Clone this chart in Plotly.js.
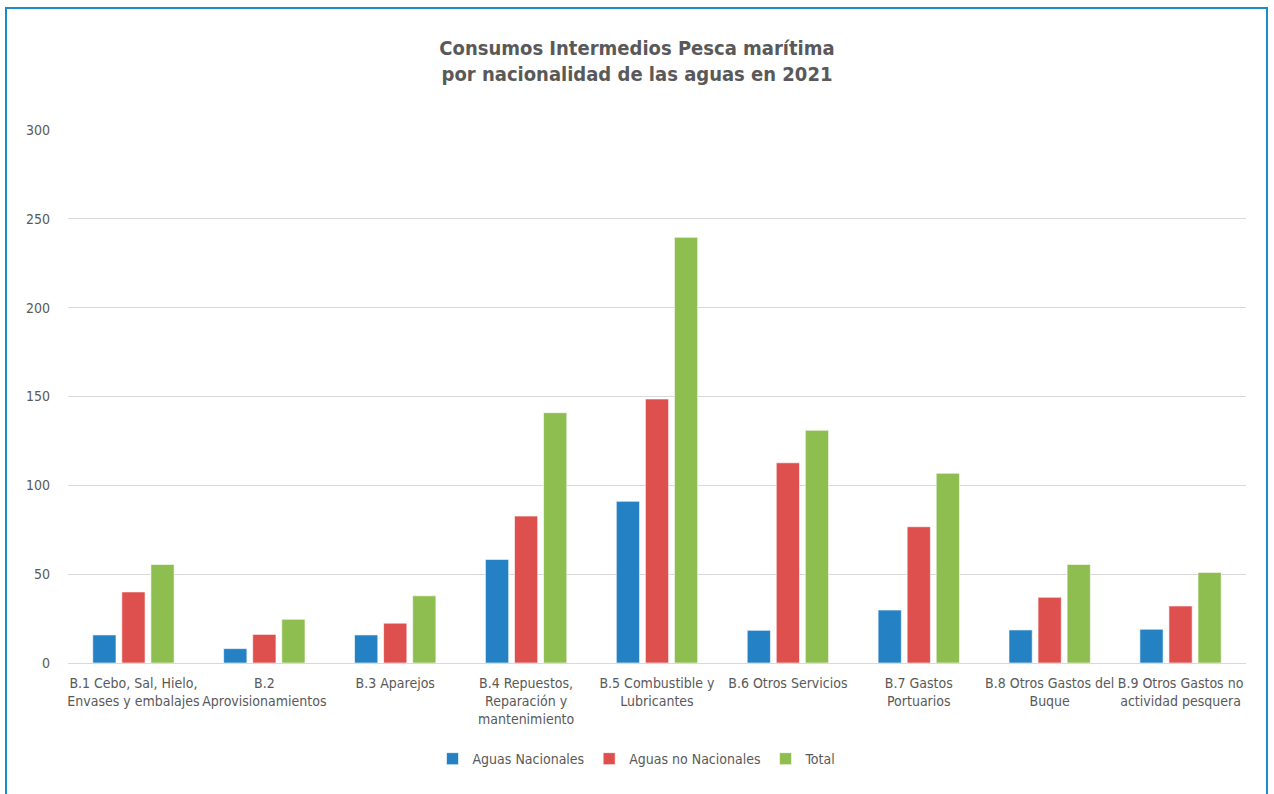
<!DOCTYPE html>
<html>
<head>
<meta charset="utf-8">
<script src="https://cdn.plot.ly/plotly-3.0.1.min.js"></script>
<style>
  html, body { margin: 0; padding: 0; background: #ffffff; }
  #chart { width: 1274px; height: 794px; }
  #frame { position: absolute; left: 5px; top: 7px; width: 1263px; height: 800px;
           border: 2px solid #1b8cc4; pointer-events: none; box-sizing: border-box; }
</style>
</head>
<body>
<div id="chart"></div>
<div id="frame"></div>
<script>
const categories = ["B.1", "B.2", "B.3", "B.4", "B.5", "B.6", "B.7", "B.8", "B.9"];
const tickLabels = [
  "B.1 Cebo, Sal, Hielo,<br>Envases y embalajes",
  "B.2<br>Aprovisionamientos",
  "B.3 Aparejos",
  "B.4 Repuestos,<br>Reparación y<br>mantenimiento",
  "B.5 Combustible y<br>Lubricantes",
  "B.6 Otros Servicios",
  "B.7 Gastos<br>Portuarios",
  "B.8 Otros Gastos del<br>Buque",
  "B.9 Otros Gastos no<br>actividad pesquera"
];
const aguasNacionales   = [15.8, 8.1, 15.8, 58.3, 91.0, 18.4, 29.8, 18.6, 19.0];
const aguasNoNacionales = [40.0, 16.1, 22.4, 82.7, 148.6, 112.7, 76.7, 37.0, 32.1];
const total             = [55.5, 24.6, 37.8, 140.9, 239.6, 131.0, 106.8, 55.5, 51.0];
const seriesNames = ["Aguas Nacionales", "Aguas no Nacionales", "Total"];
const colors = ["#2381c4", "#de504d", "#8fbe50"];

const FONT = "'Liberation Sans Narrow', 'Arial Narrow', 'DejaVu Sans Condensed', sans-serif";
const values = [aguasNacionales, aguasNoNacionales, total];

const traces = values.map((v, i) => ({
  type: "bar",
  name: seriesNames[i],
  x: categories,
  y: v,
  marker: { color: colors[i], line: { color: "rgba(255,255,255,0.6)", width: 1 } },
  hoverinfo: "x+y+name"
}));

const layout = {
  width: 1274,
  height: 794,
  margin: { l: 68, r: 28, t: 130, b: 131 },
  paper_bgcolor: "#ffffff",
  plot_bgcolor: "#ffffff",
  font: { family: FONT, size: 14, color: "#595959" },
  title: {
    text: "<b>Consumos Intermedios Pesca marítima<br>por nacionalidad de las aguas en 2021</b>",
    font: { family: FONT, size: 20, color: "#595959", lineposition: "none" },
    x: 0.5, xref: "container", xanchor: "center",
    y: 0.931, yref: "container", yanchor: "top",
    pad: { t: 0, b: 0 }
  },
  barmode: "group",
  bargap: 0.334,
  bargroupgap: 0.2,
  xaxis: {
    type: "category",
    tickvals: categories,
    ticktext: tickLabels,
    showgrid: false,
    showline: true,
    linecolor: "#d9d9d9",
    linewidth: 1,
    ticks: "",
    ticklabelstandoff: 7,
    tickfont: { family: FONT, size: 14, color: "#595959" },
    fixedrange: true
  },
  yaxis: {
    range: [0, 300],
    dtick: 50,
    showgrid: true,
    gridcolor: "#d9d9d9",
    gridwidth: 1,
    zeroline: true,
    zerolinecolor: "#d9d9d9",
    zerolinewidth: 1,
    ticks: "",
    ticklabelstandoff: 17,
    tickfont: { family: FONT, size: 14, color: "#595959" },
    fixedrange: true
  },
  legend: {
    orientation: "h",
    x: 0.5, xref: "container", xanchor: "center",
    y: 0.044, yref: "container", yanchor: "middle",
    font: { family: FONT, size: 14, color: "#595959" },
    itemwidth: 30,
    traceorder: "normal"
  },
  showlegend: true
};

Plotly.newPlot("chart", traces, layout, { displayModeBar: false, staticPlot: false });
</script>
</body>
</html>
